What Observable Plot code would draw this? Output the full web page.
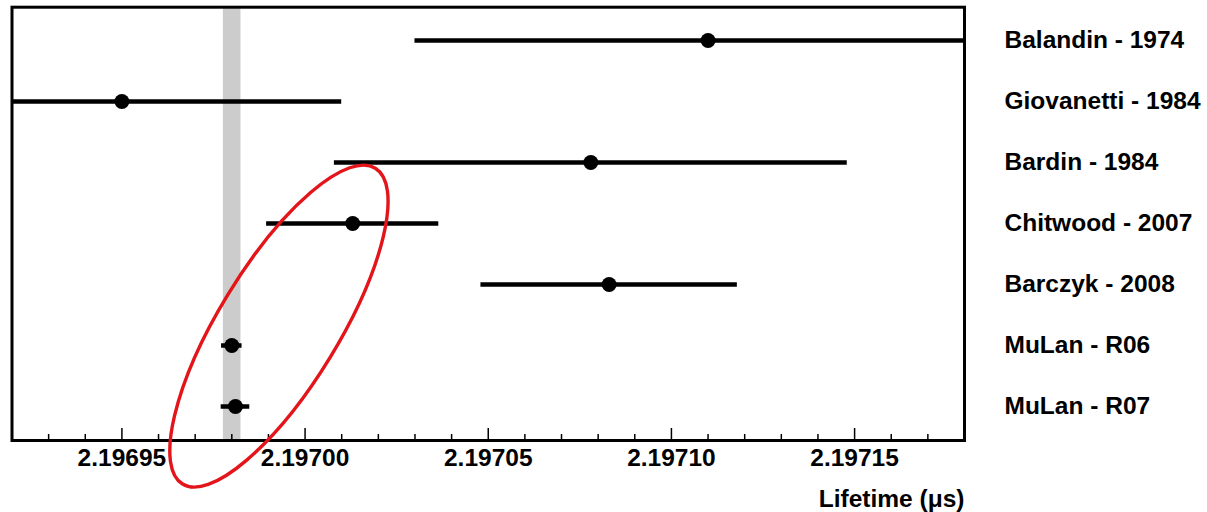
<!DOCTYPE html>
<html><head><meta charset="utf-8">
<script src="https://cdn.jsdelivr.net/npm/d3@7"></script>
<script src="https://cdn.jsdelivr.net/npm/@observablehq/plot@0.6"></script>
<style>
  html, body { margin: 0; padding: 0; background: #fff; }
  #chart svg { display: block; }
</style>
</head><body><div id="chart"></div>
<script>
// ---- data ----
const experiments = ["Balandin - 1974", "Giovanetti - 1984", "Bardin - 1984", "Chitwood - 2007", "Barczyk - 2008", "MuLan - R06", "MuLan - R07"];
const lifetimes = [2.19711, 2.19695, 2.197078, 2.197013, 2.197083, 2.196980, 2.196981];
const errors = [0.00008, 0.00006, 0.00007, 0.0000235, 0.000035, 0.0000028, 0.0000039];
const worldAverageBand = [2.1969777, 2.1969825];
const majorTicks = [2.19695, 2.19700, 2.19705, 2.19710, 2.19715];
const minorTicks = [2.19693, 2.19694, 2.19696, 2.19697, 2.19698, 2.19699, 2.19701, 2.19702, 2.19703, 2.19704,
                    2.19706, 2.19707, 2.19708, 2.19709, 2.19711, 2.19712, 2.19713, 2.19714, 2.19716, 2.19717];
const xDomain = [2.19692, 2.19718];
const xLabel = "Lifetime (\u03bcs)";
// highlight ellipse: centre in data terms (x value, fraction between two rows)
const highlightX = 2.196993;
const highlightRows = ["Barczyk - 2008", "MuLan - R06"];
const highlightFrac = 0.69;

const rows = experiments.map((name, i) => ({
  name, v: lifetimes[i], lo: lifetimes[i] - errors[i], hi: lifetimes[i] + errors[i]
}));

function highlightEllipse(index, scales) {
  const cx = scales.x(highlightX);
  const ya = scales.y(highlightRows[0]), yb = scales.y(highlightRows[1]);
  const cy = ya + highlightFrac * (yb - ya);
  const ns = "http://www.w3.org/2000/svg";
  const g = document.createElementNS(ns, "g");
  const e = document.createElementNS(ns, "ellipse");
  e.setAttribute("cx", 0); e.setAttribute("cy", 0);
  e.setAttribute("rx", 185); e.setAttribute("ry", 60);
  e.setAttribute("fill", "none");
  e.setAttribute("stroke", "#e3151a");
  e.setAttribute("stroke-width", 3.4);
  e.setAttribute("transform", `translate(${cx},${cy}) rotate(-58.6)`);
  g.appendChild(e);
  return g;
}

const font = "'Liberation Sans', Arial, Helvetica, sans-serif";

const chart = Plot.plot({
  width: 1207,
  height: 512,
  marginLeft: 11.5,
  marginRight: 243,
  marginTop: 6.7,
  marginBottom: 72,
  style: { fontFamily: font, fontWeight: "bold", fontSize: "24px", color: "#000", background: "#fff" },
  x: { domain: xDomain },
  y: { type: "point", domain: experiments, padding: 0.5 },
  marks: [
    Plot.rect([worldAverageBand], { x1: d => d[0], x2: d => d[1], fill: "#cccccc" }),
    Plot.ruleY(rows, { y: "name", x1: "lo", x2: "hi", stroke: "#000", strokeWidth: 4.5, clip: true }),
    Plot.dot(rows, { x: "v", y: "name", r: 7.5, fill: "#000", stroke: null }),
    Plot.axisX({ ticks: minorTicks, tickSize: 6, dy: -6, strokeWidth: 1.5, tickFormat: () => "" }),
    Plot.axisX({ ticks: majorTicks, tickSize: 12, dy: -12, strokeWidth: 1.5, tickFormat: () => "" }),
    Plot.axisX({ ticks: majorTicks, tickSize: 0, tickPadding: 8, fontSize: 24.5, fontWeight: "bold", tickFormat: d => d.toFixed(5), label: null }),
    Plot.axisY({ anchor: "right", tickSize: 0, tickPadding: 40, fontSize: 24.5, fontWeight: "bold", textAnchor: "start", label: null }),
    Plot.text([xLabel], { text: d => d, frameAnchor: "bottom-right", textAnchor: "end", lineAnchor: "middle", dy: 59, fontSize: 24.5, fontWeight: "bold" }),
    Plot.frame({ stroke: "#000", strokeWidth: 3 }),
    highlightEllipse
  ]
});
document.getElementById("chart").appendChild(chart);
</script>
</body></html>
